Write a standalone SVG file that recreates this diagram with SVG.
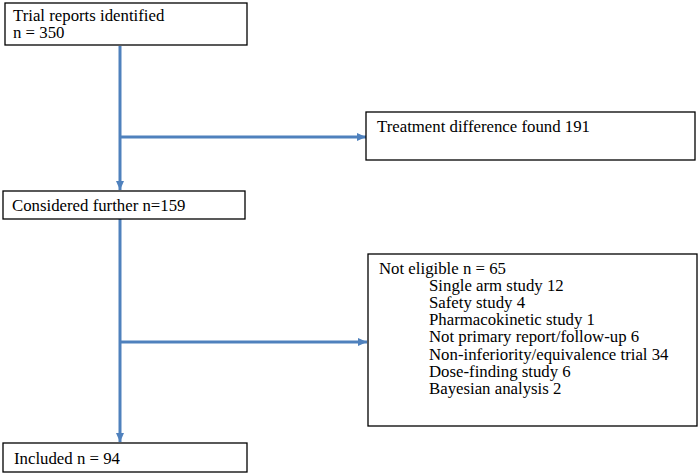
<svg xmlns="http://www.w3.org/2000/svg" width="699" height="473" viewBox="0 0 699 473">
<style>
.box{fill:#fff;stroke:#000;stroke-width:1.3}
.t{font-family:"Liberation Serif","Times New Roman",serif;font-size:16.8px;fill:#000}
.c{stroke:#4F81BD;stroke-width:3;fill:none}
</style>
<defs>
<marker id="ah" markerUnits="userSpaceOnUse" markerWidth="10" markerHeight="10" refX="9" refY="5" orient="auto">
<path d="M0,1 L9,5 L0,9 Z" fill="#4F81BD"/>
</marker>
</defs>
<rect width="699" height="473" fill="#fff"/>
<g id="connectors">
<line class="c" x1="120" y1="46" x2="120" y2="190" marker-end="url(#ah)"/>
<line class="c" x1="120" y1="137" x2="366" y2="137" marker-end="url(#ah)"/>
<line class="c" x1="120" y1="219" x2="120" y2="442" marker-end="url(#ah)"/>
<line class="c" x1="120" y1="342" x2="367" y2="342" marker-end="url(#ah)"/>
</g>
<g id="n1">
<rect class="box" x="5" y="3" width="242" height="42"/>
<text class="t" x="13" y="21">Trial reports identified</text>
<text class="t" x="13" y="38">n = 350</text>
</g>
<g id="n2">
<rect class="box" x="366" y="112" width="329" height="48"/>
<text class="t" x="377" y="132">Treatment difference found 191</text>
</g>
<g id="n3">
<rect class="box" x="3" y="191" width="242" height="28"/>
<text class="t" x="12" y="211">Considered further n=159</text>
</g>
<g id="n4">
<rect class="box" x="368" y="254" width="329" height="172"/>
<text class="t" x="379" y="274">Not eligible n = 65</text>
<text class="t" x="429" y="291">Single arm study 12</text>
<text class="t" x="429" y="308">Safety study 4</text>
<text class="t" x="429" y="325">Pharmacokinetic study 1</text>
<text class="t" x="429" y="342">Not primary report/follow-up 6</text>
<text class="t" x="429" y="360">Non-inferiority/equivalence trial 34</text>
<text class="t" x="429" y="377">Dose-finding study 6</text>
<text class="t" x="429" y="394">Bayesian analysis 2</text>
</g>
<g id="n5">
<rect class="box" x="3" y="443" width="244" height="29"/>
<text class="t" x="14" y="464">Included n = 94</text>
</g>
</svg>
